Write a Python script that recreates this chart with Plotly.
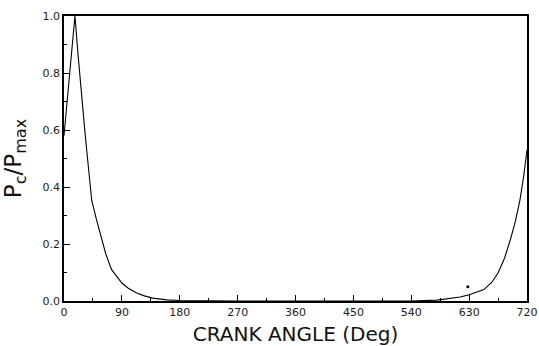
import plotly.graph_objects as go

crank_angle = [0, 5, 10, 17, 22, 27.5, 32.7, 35.3, 43, 50, 56, 65, 74, 90, 100, 113, 125, 138, 160, 180,
               270, 360, 450, 540, 580, 603, 616, 630, 653, 665, 675, 685, 694, 702, 709, 715, 720]
pc_over_pmax = [0.58, 0.70, 0.82, 1.0, 0.86, 0.705, 0.59, 0.53, 0.355, 0.29, 0.24, 0.165, 0.11, 0.063, 0.045, 0.028, 0.018, 0.01, 0.004, 0.002,
                0.0, 0.0, 0.0, 0.0, 0.003, 0.01, 0.014, 0.022, 0.04, 0.065, 0.098, 0.15, 0.214, 0.28, 0.354, 0.44, 0.53]
stray_x = [628]
stray_y = [0.05]

x_ticks = [0, 90, 180, 270, 360, 450, 540, 630, 720]
x_labels = ["0", "90", "180", "270", "360", "450", "540", "630", "720"]
y_ticks = [0.0, 0.2, 0.4, 0.6, 0.8, 1.0]
y_labels = ["0.0", "0.2", "0.4", "0.6", "0.8", "1.0"]

fig = go.Figure()
fig.add_trace(go.Scatter(x=crank_angle, y=pc_over_pmax, mode="lines",
                         line=dict(color="black", width=1.1), showlegend=False))
fig.add_trace(go.Scatter(x=stray_x, y=stray_y, mode="markers",
                         marker=dict(color="black", size=3), showlegend=False))

font = "DejaVu Sans"
fig.update_layout(
    width=539, height=346,
    margin=dict(l=64, r=12, t=16, b=45),
    paper_bgcolor="white", plot_bgcolor="white",
    font=dict(family=font, color="black"),
    xaxis=dict(range=[0, 720], tickvals=x_ticks, ticktext=x_labels, automargin=False,
               ticklabeloverflow="allow",
               ticks="inside", ticklen=6, tickwidth=1, tickcolor="black",
               minor=dict(dtick=45, tick0=0, ticks="inside", ticklen=3, tickcolor="black"),
               showgrid=False, zeroline=False, showline=True, linecolor="black", linewidth=1.5,
               mirror=True, tickfont=dict(size=11, color="#222"),
               title=dict(text="CRANK ANGLE (Deg)", font=dict(size=20, color="#111"))),
    yaxis=dict(range=[0, 1.0], tickvals=y_ticks, ticktext=y_labels, automargin=False,
               ticks="inside", ticklen=6, tickwidth=1, tickcolor="black",
               minor=dict(dtick=0.1, tick0=0, ticks="inside", ticklen=3, tickcolor="black"),
               showgrid=False, zeroline=False, showline=True, linecolor="black", linewidth=1.5,
               mirror=True, tickfont=dict(size=11, color="#222"),
               title=dict(text="P<sub>c</sub>/P<sub>max</sub>", font=dict(size=23, color="#111"))),
)

# remove the page's default body margin so the 539x346 figure fills the window exactly
fig.write_html("out.html", config={"displayModeBar": False},
               post_script="document.body.style.margin='0';document.body.style.overflow='hidden';")
